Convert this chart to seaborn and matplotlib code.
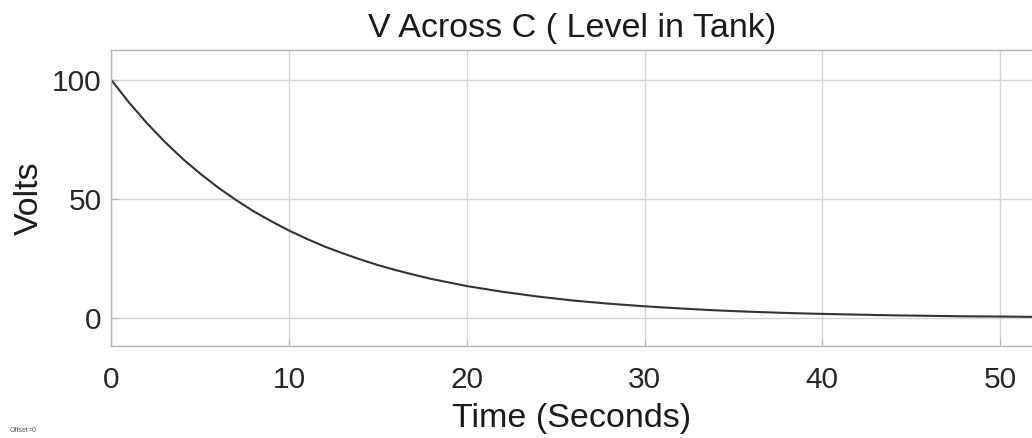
import numpy as np
import pandas as pd
import seaborn as sns
import matplotlib.pyplot as plt

# Values (time in s, volts)
time_s = [0, 1, 2, 3, 4, 5, 6, 7, 8, 9, 10, 11, 12, 13, 14, 15, 16, 17, 18, 19,
          20, 22, 24, 26, 28, 30, 32, 34, 36, 38, 40, 42, 44, 46, 48, 50, 52]
volts = [100, 90.5, 81.9, 74.1, 67.0, 60.7, 54.9, 49.7, 44.9, 40.7, 36.8, 33.3,
         30.1, 27.3, 24.7, 22.3, 20.2, 18.3, 16.5, 15.0, 13.5, 11.1, 9.1, 7.4,
         6.1, 5.0, 4.1, 3.3, 2.7, 2.2, 1.8, 1.5, 1.2, 1.0, 0.8, 0.7, 0.55]
x_ticks = [0, 10, 20, 30, 40, 50]
y_ticks = [0, 50, 100]

df = pd.DataFrame({'t': time_s, 'v': volts})

sns.set_style('whitegrid')
plt.rcParams['font.family'] = ['Liberation Sans', 'DejaVu Sans']

fig = plt.figure(figsize=(10.32, 4.38), dpi=100)
ax = fig.add_axes([0.108, 0.211, 0.892, 0.675])

sns.lineplot(data=df, x='t', y='v', ax=ax, color='#333333', linewidth=1.5)

ax.set_xlim(0, 51.8)
ax.set_ylim(-11.5, 112.7)
ax.set_xticks(x_ticks)
ax.set_yticks(y_ticks)
ax.grid(True, color='#d4d4d4', linewidth=1.0)

for side in ['left', 'top', 'bottom']:
    ax.spines[side].set_color('#b5b5b5')
    ax.spines[side].set_linewidth(1.0)
ax.spines['right'].set_visible(False)

ax.tick_params(axis='both', direction='in', length=5, color='#b5b5b5',
               labelsize=21.4, labelcolor='#262626')
ax.tick_params(axis='x', bottom=True, pad=15)
ax.tick_params(axis='y', left=True, pad=7)

ax.set_title('V Across C ( Level in Tank)', fontsize=24.5, color='#1a1a1a', pad=9)
ax.set_xlabel('Time (Seconds)', fontsize=24.5, color='#1a1a1a', labelpad=6)
ax.set_ylabel('Volts', fontsize=24.5, color='#1a1a1a', labelpad=5)

fig.text(0.009, 0.013, 'Offset=0', fontsize=5, color='#555555')

plt.savefig('out.png', dpi=100)
